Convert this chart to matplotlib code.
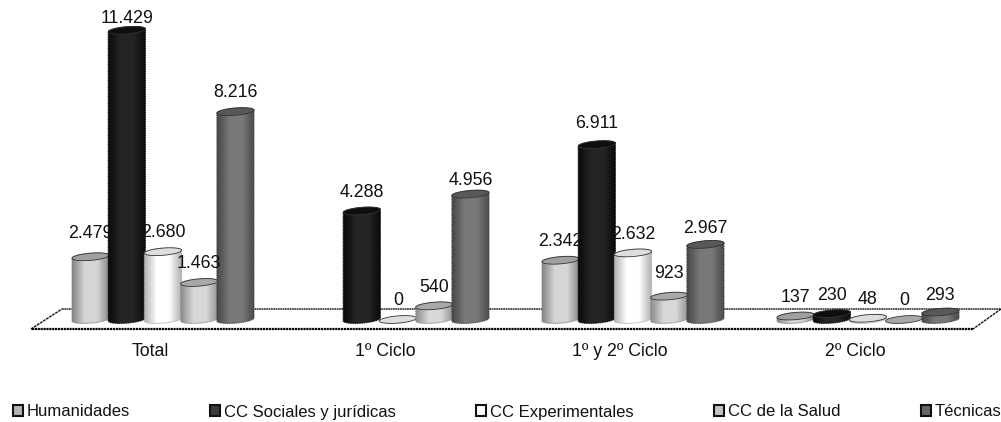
import numpy as np
import matplotlib
matplotlib.use('Agg')
import matplotlib.pyplot as plt
from matplotlib.colors import LinearSegmentedColormap
from matplotlib.patches import Patch, Polygon

plt.rcParams['font.family'] = ['Liberation Sans', 'DejaVu Sans']

# Datos
grupos = ['Total', '1º Ciclo', '1º y 2º Ciclo', '2º Ciclo']
series = ['Humanidades', 'CC Sociales y jurídicas', 'CC Experimentales', 'CC de la Salud', 'Técnicas']
humanidades = [2479, None, 2342, 137]
sociales = [11429, 4288, 6911, 230]
experimentales = [2680, 0, 2632, 48]
salud = [1463, 540, 923, 0]
tecnicas = [8216, 4956, 2967, 293]
valores = [humanidades, sociales, experimentales, salud, tecnicas]

# Colores: borde, centro, tapa, leyenda
colores = [
    ('#858585', '#d6d6d6', '#a0a0a0', '#b4b4b4'),
    ('#0a0a0a', '#242424', '#0e0e0e', '#3a3a3a'),
    ('#b0b0b0', '#ffffff', '#dedede', '#ffffff'),
    ('#8e8e8e', '#d8d8d8', '#a8a8a8', '#c4c4c4'),
    ('#484848', '#787878', '#585858', '#666666'),
]

# Ajuste vertical de algunas etiquetas (puntos)
ajuste = {11429: -5, 2479: 3, 6911: 1.5, 923: 3, 4956: -4, 2967: -2, 293: -1.5, 230: -0.5}

W, H = 1001, 422
px_x = 235.0   # pixeles por grupo
px_y = 0.0253  # pixeles por unidad
x0, y0 = 163, 319.5
paso = 36.2 / px_x
a = 18.6 / px_x      # semiancho del cilindro
b = 3.6 / px_y       # semialto de la elipse


def x_px(p):
    return (p - x0) / px_x


def y_px(p):
    return (y0 - p) / px_y


fig = plt.figure(figsize=(W / 100, H / 100), dpi=100)
ax = fig.add_axes([0, 0, 1, 1])
ax.axis('off')

# Suelo
suelo_x = x_px(np.array([31, 62, 1001, 973, 31]))
suelo_y = y_px(np.array([329, 309, 309, 329, 329]))
ax.plot(suelo_x[:2], suelo_y[:2], color='#111111', lw=1, ls=(0, (2, 0.6)), zorder=1)
ax.plot(suelo_x[1:3], suelo_y[1:3], color='#444444', lw=1.3, ls=(0, (1, 0.3)), zorder=1)
ax.plot(suelo_x[2:4], suelo_y[2:4], color='#111111', lw=1, ls=(0, (2, 0.6)), zorder=1)
ax.plot(suelo_x[3:5], suelo_y[3:5], color='#000000', lw=1.6, ls=(0, (1, 0.3)), zorder=1)

t = np.linspace(0, 2 * np.pi, 80)
for s, vals in enumerate(valores):
    borde, centro, tapa, _ = colores[s]
    cmap = LinearSegmentedColormap.from_list('c', [borde, centro, centro, borde])
    for g, v in enumerate(vals):
        if v is None:
            continue
        cx = g + (s - 2) * paso
        ex = a * np.cos(t)
        ey = b * np.sin(t) + 0.08 * 18.6 / px_y * np.cos(t)
        mitad = t <= np.pi
        # cuerpo del cilindro
        contorno = np.vstack([
            np.column_stack([cx + ex[mitad], v + ey[mitad]]),
            np.column_stack([cx + ex[~mitad], ey[~mitad]]),
        ])
        zo = 3 + s * 0.01
        if v > 0:
            img = ax.imshow(np.linspace(0, 1, 64).reshape(1, -1), cmap=cmap, aspect='auto',
                            extent=(cx - a, cx + a, -b * 2, v + b * 2), zorder=zo)
            forma = Polygon(contorno, closed=True, transform=ax.transData, fc='none', ec='none')
            ax.add_patch(forma)
            img.set_clip_path(forma)
            ax.add_patch(Polygon(contorno, closed=True, fc='none', ec=borde, lw=0.8,
                                 ls=(0, (1, 0.6)), zorder=zo + 0.001))
        # tapa
        ax.add_patch(Polygon(np.column_stack([cx + ex, v + ey]), closed=True, fc=tapa,
                             ec='#333333', lw=0.6, zorder=zo + 0.002))
        # etiqueta encima de las barras
        ax.annotate(f'{v:,}'.replace(',', '.'), (cx, v), xytext=(0, 13.5 + ajuste.get(v, 0)),
                    textcoords='offset points', ha='center', va='center', fontsize=12.8,
                    color='#111111', zorder=5)

for g, nombre in enumerate(grupos):
    ax.text(g - 13 / px_x, y_px(351), nombre, ha='center', va='center', fontsize=12.8, color='#111111')

ax.set_xlim(x_px(0), x_px(W))
ax.set_ylim(y_px(H), y_px(0))

manejadores = [Patch(fc=colores[s][3], ec='#111111', lw=1.5, label=series[s]) for s in range(5)]
ax.legend(handles=manejadores, ncol=5, loc='center', bbox_to_anchor=(0.5065, 10 / H), frameon=False,
          fontsize=12, handlelength=0.6, handleheight=0.6, handletextpad=0.2,
          columnspacing=4.85, borderpad=0, borderaxespad=0, labelcolor='#111111')

fig.savefig('out.png', dpi=100)
